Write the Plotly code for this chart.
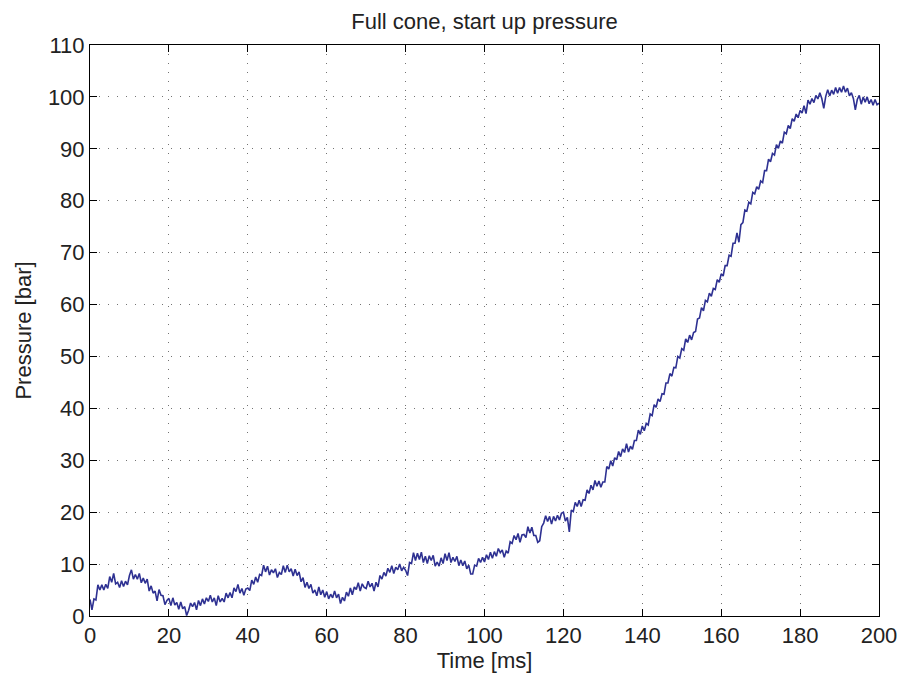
import numpy as np
import plotly.graph_objects as go

# Sampling step of the recorded trace (ms)
dt_ms = 0.5

# Pressure [bar], every 0.5 ms, t = 0 ... 200 ms
pressure_bar = [
    3.2, 1.2, 3.3, 3.1, 6.0, 5.0, 6.0, 5.0, 6.1, 5.3, 7.6, 6.5, 8.2, 6.2, 6.5, 5.5, 6.8, 5.7, 6.7, 6.0,
    7.8, 8.9, 7.1, 8.0, 7.1, 8.2, 6.4, 7.3, 6.3, 7.1, 4.8, 5.8, 4.4, 4.8, 2.9, 5.1, 4.0, 3.9, 2.2, 3.0,
    3.4, 2.0, 3.5, 2.1, 2.6, 1.3, 2.7, 1.4, 1.8, 0.1, 1.1, 2.5, 1.8, 2.6, 1.2, 3.0, 2.0, 3.3, 2.3, 3.5,
    2.8, 4.0, 2.7, 3.5, 2.0, 3.9, 2.7, 3.4, 2.7, 4.4, 3.5, 4.5, 3.5, 5.4, 4.7, 6.1, 4.4, 5.3, 4.0, 5.2,
    5.4, 4.9, 6.9, 6.1, 7.5, 6.5, 8.0, 7.8, 9.8, 8.5, 9.6, 7.9, 8.9, 8.3, 9.1, 7.4, 8.4, 8.0, 9.7, 8.4,
    9.8, 8.5, 9.1, 7.7, 9.0, 7.8, 8.5, 6.6, 7.4, 5.5, 6.5, 5.3, 6.1, 4.4, 5.0, 3.9, 5.6, 4.1, 5.0, 3.6,
    4.7, 3.3, 4.2, 3.5, 4.8, 3.5, 4.2, 2.4, 3.6, 2.9, 4.6, 3.8, 5.4, 4.1, 5.6, 5.1, 6.4, 4.8, 6.2, 5.5,
    5.3, 6.7, 5.6, 6.3, 4.8, 6.5, 5.6, 7.8, 7.1, 8.4, 7.7, 9.2, 8.4, 9.7, 8.2, 9.4, 8.9, 10.0, 8.7, 9.4,
    8.8, 7.8, 10.3, 10.1, 12.2, 10.7, 12.1, 10.9, 12.3, 10.3, 11.5, 10.1, 11.6, 10.7, 11.7, 9.6, 10.4, 9.6, 11.2, 10.1,
    12.0, 10.7, 12.2, 10.3, 11.3, 10.5, 11.5, 9.7, 10.8, 9.7, 10.6, 9.1, 9.8, 8.1, 8.1, 9.8, 9.6, 11.1, 10.3, 11.3,
    10.4, 11.8, 10.9, 12.3, 11.1, 12.4, 11.5, 13.0, 12.2, 12.7, 11.3, 12.5, 12.1, 14.3, 14.0, 15.5, 14.7, 15.9, 14.2, 15.6,
    15.7, 15.1, 17.2, 16.0, 17.1, 15.5, 15.5, 14.2, 14.5, 17.2, 17.9, 19.3, 18.2, 19.2, 17.7, 19.2, 18.3, 19.4, 18.5, 19.8,
    20.0, 18.3, 19.0, 16.2, 20.4, 20.1, 21.9, 21.1, 22.3, 21.1, 22.4, 22.3, 24.3, 23.6, 25.2, 24.3, 26.1, 25.0, 26.0, 24.8,
    25.8, 25.8, 28.8, 28.3, 29.9, 28.9, 30.5, 30.1, 31.7, 30.7, 32.2, 31.5, 33.2, 31.6, 32.7, 32.1, 33.8, 33.8, 35.8, 35.0,
    36.6, 35.7, 37.1, 36.8, 38.9, 38.6, 40.7, 40.2, 41.8, 41.3, 42.8, 42.7, 44.9, 44.9, 46.7, 46.2, 47.9, 47.8, 50.0, 49.7,
    51.5, 51.2, 53.4, 52.7, 54.1, 53.2, 54.6, 54.8, 57.2, 57.4, 59.4, 58.8, 60.8, 60.5, 62.2, 61.6, 63.1, 62.9, 64.8, 64.3,
    65.9, 65.5, 67.5, 67.5, 69.5, 69.3, 71.8, 71.8, 73.8, 72.0, 75.4, 75.8, 78.2, 78.0, 79.7, 79.4, 81.6, 81.3, 82.7, 82.2,
    83.8, 83.5, 85.8, 85.8, 88.0, 87.5, 89.1, 88.8, 90.8, 90.1, 91.5, 91.1, 93.2, 92.9, 94.5, 93.9, 95.8, 95.3, 96.7, 96.0,
    97.4, 96.9, 98.3, 96.8, 99.4, 98.6, 99.7, 98.9, 100.3, 99.6, 100.8, 99.7, 97.8, 100.1, 101.4, 100.2, 101.3, 100.5, 101.8, 100.7,
    101.8, 100.9, 102.1, 100.9, 101.7, 100.2, 100.8, 99.7, 97.5, 99.5, 100.3, 98.6, 100.0, 99.0, 100.0, 98.7, 99.5, 98.4, 99.5, 98.5,
    98.8,
]
time_ms = np.arange(len(pressure_bar)) * dt_ms

x_ticks = [0, 20, 40, 60, 80, 100, 120, 140, 160, 180, 200]
y_ticks = [0, 10, 20, 30, 40, 50, 60, 70, 80, 90, 100, 110]

title_text = "Full cone, start up pressure"
x_label = "Time [ms]"
y_label = "Pressure [bar]"

FONT = "Liberation Sans, Arial, Helvetica, sans-serif"
TXT = "#222222"

fig = go.Figure()
fig.add_trace(go.Scatter(
    x=time_ms, y=pressure_bar, mode="lines",
    line=dict(color="#2E3192", width=1.6),
    showlegend=False, hoverinfo="skip",
))

axis_common = dict(
    showline=True, linecolor="black", linewidth=1, mirror="ticks",
    ticks="inside", ticklen=7, tickcolor="black", tickwidth=1,
    showgrid=True, gridcolor="rgba(0,0,0,0.55)", gridwidth=1, griddash="1px,8px",
    zeroline=False,
    tickfont=dict(family=FONT, size=22, color=TXT),
)

fig.update_xaxes(
    range=[0, 200], tickvals=x_ticks, ticktext=[str(v) for v in x_ticks],
    title=dict(text=x_label, font=dict(family=FONT, size=22, color=TXT), standoff=4),
    **axis_common,
)
fig.update_yaxes(
    range=[0, 110], tickvals=y_ticks, ticktext=[str(v) for v in y_ticks],
    title=dict(text=y_label, font=dict(family=FONT, size=22, color=TXT), standoff=10),
    **axis_common,
)

fig.update_layout(
    width=902, height=677,
    margin=dict(l=90, r=23, t=45, b=61, autoexpand=False),
    paper_bgcolor="white", plot_bgcolor="white",
    title=dict(text=title_text, x=0.5, xref="paper", y=1 - 21 / 677, yref="container",
               yanchor="middle", xanchor="center",
               font=dict(family=FONT, size=22, color=TXT)),
)

fig.write_html(
    "out.html",
    config={"displayModeBar": False},
    post_script="document.body.style.margin='0';document.body.style.padding='0';",
)
